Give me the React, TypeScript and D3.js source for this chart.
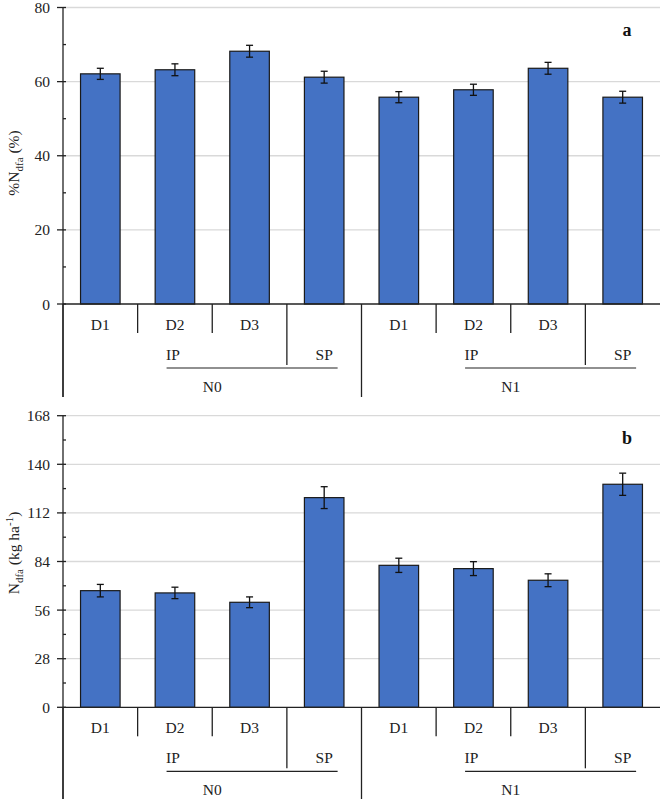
import React from "react";
import * as d3 from "d3";

// ---- data ----
const categories = ["N0-IP-D1", "N0-IP-D2", "N0-IP-D3", "N0-SP", "N1-IP-D1", "N1-IP-D2", "N1-IP-D3", "N1-SP"];
const dLabels = ["D1", "D2", "D3", "", "D1", "D2", "D3", ""];
const nLabels = ["N0", "N1"];
const pLabels = ["IP", "SP"];
const pctNdfa = [62.1, 63.2, 68.2, 61.2, 55.8, 57.8, 63.6, 55.8];
const pctNdfaErr = [1.5, 1.6, 1.6, 1.6, 1.5, 1.5, 1.6, 1.6];
const kgNdfa = [67.2, 65.9, 60.5, 120.8, 81.8, 79.9, 73.2, 128.5];
const kgNdfaErr = [3.6, 3.3, 3.1, 6.3, 4.1, 4.0, 3.7, 6.4];
const pctTicks = [0, 20, 40, 60, 80];
const kgTicks = [0, 28, 56, 84, 112, 140, 168];

const FONT = "Liberation Serif, serif";
const BAR = "#4472C4";
const X0 = 63;
const X1 = 660;
const FS = 15.5;

type PanelProps = {
  values: number[];
  errs: number[];
  ticks: number[];
  top: number;
  bottom: number;
  letter: string;
  title: React.ReactNode;
  titleY: number;
};

const txt = { fontFamily: FONT, fontSize: FS, fill: "#222" } as React.CSSProperties;

function Panel({ values, errs, ticks, top, bottom, letter, title, titleY }: PanelProps) {
  const maxV = ticks[ticks.length - 1];
  const y = d3.scaleLinear().domain([0, maxV]).range([bottom, top]);
  const x = d3.scaleBand<string>().domain(categories).range([X0, X1]).padding(0);
  const step = x.step();
  const bw = step * 0.53;
  const minor: number[] = [];
  for (let i = 0; i < ticks.length - 1; i++) minor.push((ticks[i] + ticks[i + 1]) / 2);

  const groupW = step * 4;
  const groups = nLabels.map((n, gi) => ({ n, gx: X0 + gi * groupW }));

  return (
    <g>
      {ticks.filter((t) => t > 0).map((t) => (
        <line key={"g" + t} x1={X0} x2={X1} y1={y(t)} y2={y(t)} stroke="#d9d9d9" strokeWidth={1.3} />
      ))}
      {values.map((v, i) => {
        const cx = (x(categories[i]) as number) + step / 2;
        return (
          <g key={"b" + i}>
            <rect x={cx - bw / 2} y={y(v)} width={bw} height={y(0) - y(v)} fill={BAR} stroke="#1a1a1a" strokeWidth={1.2} />
            <line x1={cx} x2={cx} y1={y(v + errs[i])} y2={y(v - errs[i])} stroke="#111" strokeWidth={1.3} />
            <line x1={cx - 3.5} x2={cx + 3.5} y1={y(v + errs[i])} y2={y(v + errs[i])} stroke="#111" strokeWidth={1.3} />
            <line x1={cx - 3.5} x2={cx + 3.5} y1={y(v - errs[i])} y2={y(v - errs[i])} stroke="#111" strokeWidth={1.3} />
          </g>
        );
      })}
      <line x1={X0} x2={X0} y1={top} y2={bottom + 93} stroke="#222" strokeWidth={1.3} />
      {ticks.map((t) => (
        <g key={"t" + t}>
          <line x1={X0 - 6} x2={X0 + 3} y1={y(t)} y2={y(t)} stroke="#222" strokeWidth={1.3} />
          <text x={50} y={y(t)} dy="0.36em" textAnchor="end" style={txt}>
            {t}
          </text>
        </g>
      ))}
      {minor.map((t) => (
        <line key={"m" + t} x1={X0} x2={X0 + 3} y1={y(t)} y2={y(t)} stroke="#222" strokeWidth={1.3} />
      ))}
      <line x1={X0} x2={X1} y1={bottom} y2={bottom} stroke="#222" strokeWidth={1.3} />
      {dLabels.map((d, i) =>
        d ? (
          <text key={"d" + i} x={(x(categories[i]) as number) + step / 2} y={bottom + 20} dy="0.36em" textAnchor="middle" style={txt}>
            {d}
          </text>
        ) : null
      )}
      {groups.map(({ n, gx }) => (
        <g key={n}>
          <line x1={gx} x2={gx} y1={bottom} y2={bottom + 93} stroke="#222" strokeWidth={1.3} />
          <line x1={gx + step} x2={gx + step} y1={bottom} y2={bottom + 29} stroke="#222" strokeWidth={1.3} />
          <line x1={gx + step * 2} x2={gx + step * 2} y1={bottom} y2={bottom + 29} stroke="#222" strokeWidth={1.3} />
          <line x1={gx + step * 3} x2={gx + step * 3} y1={bottom} y2={bottom + 61} stroke="#222" strokeWidth={1.3} />
          <text x={gx + step * 1.5 - 2} y={bottom + 50} dy="0.36em" textAnchor="middle" style={txt}>
            {pLabels[0]}
          </text>
          <text x={gx + step * 3.5} y={bottom + 50} dy="0.36em" textAnchor="middle" style={txt}>
            {pLabels[1]}
          </text>
          <line x1={gx + groupW * 0.347} x2={gx + groupW * 0.92} y1={bottom + 64} y2={bottom + 64} stroke="#222" strokeWidth={1.2} />
          <text x={gx + groupW / 2} y={bottom + 82} dy="0.36em" textAnchor="middle" style={txt}>
            {n}
          </text>
        </g>
      ))}
      <text x={627} y={top + 28} textAnchor="middle" style={{ ...txt, fontSize: 18, fontWeight: "bold", fill: "#111" }}>
        {letter}
      </text>
      <text transform={`translate(19,${titleY}) rotate(-90)`} textAnchor="middle" style={txt}>
        {title}
      </text>
    </g>
  );
}

export default function App() {
  return (
    <svg width={662} height={799} style={{ position: "absolute", left: 0, top: 0, background: "#fff" }}>
      <rect width={662} height={799} fill="#fff" />
      <Panel
        values={pctNdfa}
        errs={pctNdfaErr}
        ticks={pctTicks}
        top={7.5}
        bottom={304}
        letter="a"
        titleY={163}
        title={
          <>
            <tspan>%N</tspan>
            <tspan style={{ fontSize: 11 }} dy={4}>dfa</tspan>
            <tspan dy={-4}> (%)</tspan>
          </>
        }
      />
      <Panel
        values={kgNdfa}
        errs={kgNdfaErr}
        ticks={kgTicks}
        top={415.7}
        bottom={707.3}
        letter="b"
        titleY={553}
        title={
          <>
            <tspan>N</tspan>
            <tspan style={{ fontSize: 11 }} dy={4}>dfa</tspan>
            <tspan dy={-4}> (kg ha</tspan>
            <tspan style={{ fontSize: 11 }} dy={-6}>-1</tspan>
            <tspan dy={6}>)</tspan>
          </>
        }
      />
    </svg>
  );
}
